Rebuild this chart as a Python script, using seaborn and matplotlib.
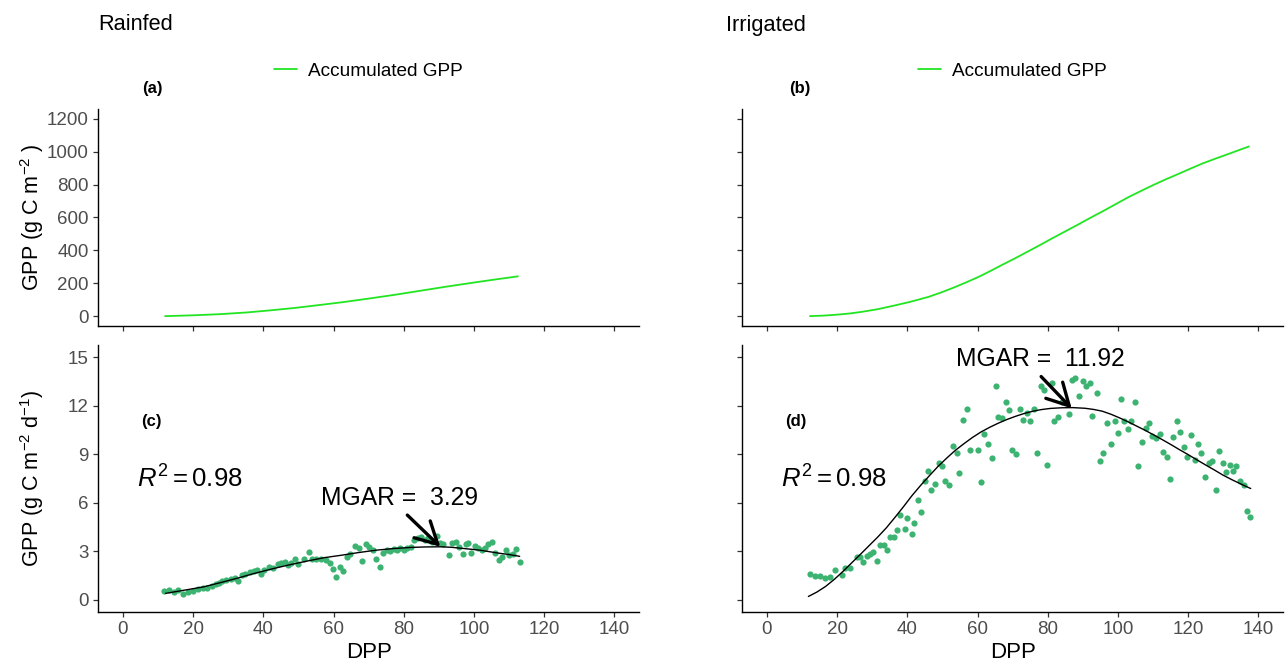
import matplotlib
matplotlib.use("Agg")
import matplotlib.pyplot as plt
import seaborn as sns
import pandas as pd

# ---------------- data ----------------
# accumulated GPP (g C m-2)
acc_rain_dpp = [12, 20, 27.6, 35, 41.9, 49, 56.1, 63, 70.4, 77.5, 84.6, 91.7, 98.9, 105.7, 112.5]
acc_rain_gpp = [0, 5, 12, 22, 35, 50, 68, 86, 108, 130, 154, 178, 201, 222, 242]
acc_irr_dpp = [12.25, 16, 20, 23.5, 27, 31.5, 36, 41, 46, 49.5, 53, 56.6, 60.2, 63.6, 67, 70.7,
               74.4, 78, 81.5, 85.1, 88.7, 92.3, 96, 99.5, 102.9, 106.5, 110, 113.6, 117.2, 120.6,
               124, 127.5, 131, 134.2, 137.3]
acc_irr_gpp = [0, 3, 9, 16, 26, 42, 63, 88, 117, 143, 172, 204, 238, 274, 312, 352,
               394, 435, 476, 517, 558, 600, 642, 683, 723, 761, 797, 832, 865, 897,
               928, 956, 983, 1008, 1032]

# daily GPP (g C m-2 d-1), rainfed
rain_dpp = [11.6, 13.1, 14.6, 15.6, 17.0, 18.5, 20.0, 21.5, 22.9, 23.9, 25.4, 26.4, 27.4, 28.3, 29.3,
            30.8, 31.8, 32.8, 33.8, 34.7, 36.2, 37.2, 38.2, 39.2, 40.2, 41.6, 42.6, 44.1, 45.1, 46.1,
            47.0, 48.0, 49.0, 50.0, 51.5, 53.0, 53.9, 54.9, 56.4, 57.9, 58.9, 59.8, 60.8, 61.8, 62.8,
            63.8, 64.8, 66.2, 67.2, 68.2, 69.2, 70.2, 71.2, 72.1, 73.1, 74.1, 75.1, 76.1, 77.1, 78.1,
            79.0, 80.0, 81.0, 82.0, 83.0, 84.0, 84.9, 85.9, 86.9, 87.9, 89.4, 90.4, 91.3, 92.8, 93.8,
            94.8, 95.8, 96.8, 97.7, 98.2, 99.2, 100.2, 101.2, 102.2, 103.1, 104.1, 105.1, 106.1, 107.1,
            108.1, 109.1, 110.0, 111.0, 112.0, 113.0]
rain_gpp = [0.55, 0.59, 0.51, 0.59, 0.38, 0.51, 0.55, 0.65, 0.72, 0.76, 0.86, 0.97, 1.07, 1.18, 1.22,
            1.31, 1.35, 1.14, 1.56, 1.60, 1.71, 1.81, 1.85, 1.60, 1.85, 2.02, 1.96, 2.19, 2.27, 2.34,
            2.17, 2.27, 2.55, 2.19, 2.55, 2.93, 2.55, 2.55, 2.55, 2.44, 2.27, 1.92, 1.43, 2.02, 1.81,
            2.65, 2.86, 3.35, 3.18, 2.40, 3.45, 3.28, 3.07, 2.55, 2.02, 2.91, 3.07, 3.03, 3.12, 3.07,
            3.18, 3.07, 3.18, 3.24, 3.71, 3.81, 3.87, 3.71, 3.81, 3.60, 3.92, 3.49, 3.45, 2.76, 3.49,
            3.60, 3.28, 2.86, 3.45, 3.54, 2.91, 3.33, 3.18, 3.07, 3.18, 3.45, 3.60, 2.91, 2.48,
            2.65, 3.07, 2.76, 2.86, 3.12, 2.34]

# daily GPP, irrigated
irr_dpp = [12.3, 13.7, 15.1, 16.5, 17.9, 19.3, 21.3, 22.2, 23.6, 25.6,
           26.5, 27.3, 28.4, 29.4, 30.3, 31.3, 32.3, 33.2, 34.2, 35.1,
           36.1, 37.0, 38.0, 39.3, 39.9, 41.2, 41.8, 43.1, 44.0, 45.0,
           46.0, 46.8, 47.8, 49.0, 49.8, 50.8, 51.9, 53.0, 54.1, 54.8,
           55.9, 57.1, 57.8, 60.2, 61.0, 61.9, 62.9, 64.0, 65.2, 65.8,
           66.9, 68.0, 69.0, 69.9, 70.8, 72.1, 73.0, 74.0, 74.9, 76.1,
           76.9, 78.0, 79.0, 79.9, 81.1, 81.8, 83.0, 84.0, 85.9, 86.8,
           87.8, 89.0, 90.1, 91.0, 92.0, 92.7, 93.9, 94.9, 95.6, 96.8,
           98.0, 99.0, 99.9, 100.9, 101.7, 102.9, 103.8, 104.8, 105.8, 106.9,
           107.9, 108.8, 109.8, 110.7, 112.0, 112.9, 113.9, 114.8, 115.7, 116.9,
           117.8, 118.8, 119.7, 120.9, 121.8, 122.8, 123.7, 124.9, 125.9, 126.7,
           127.9, 128.8, 129.8, 130.7, 131.8, 132.7, 133.7, 134.7, 135.9, 136.8,
           137.7]
irr_gpp = [1.60, 1.49, 1.46, 1.34, 1.42, 1.84, 1.54, 1.99, 1.99, 2.63,
           2.63, 2.33, 2.73, 2.83, 2.93, 2.43, 3.42, 3.42, 3.07, 3.91,
           3.91, 4.31, 5.25, 4.41, 5.05, 4.07, 4.75, 6.19, 5.40, 7.37,
           7.96, 6.78, 7.17, 8.46, 8.26, 7.37, 7.07, 9.50, 9.05, 7.87,
           11.13, 11.77, 9.25, 9.25, 7.27, 10.24, 9.64, 8.75, 13.20, 11.32,
           11.22, 12.21, 11.72, 9.25, 9.00, 11.77, 11.13, 11.57, 11.03, 11.82,
           9.05, 13.20, 13.00, 8.36, 13.40, 11.03, 11.32, 12.21, 11.48, 13.60,
           13.70, 12.61, 13.50, 13.20, 13.40, 11.38, 12.76, 8.61, 9.05, 10.93,
           9.64, 11.03, 10.34, 12.41, 11.03, 10.53, 11.03, 12.21, 8.26, 9.74,
           10.63, 10.93, 10.14, 9.99, 10.24, 9.15, 8.80, 7.47, 10.09, 11.03,
           10.38, 9.45, 8.80, 10.19, 8.66, 9.64, 9.10, 7.57, 8.46, 8.56,
           6.78, 9.20, 8.46, 7.91, 8.36, 7.96, 8.26, 7.37, 7.07, 5.49,
           5.15]

# fitted curves
rain_fit_dpp = [12.1, 17, 22.9, 27.5, 32.8, 37.5, 42.6, 47.5, 52.5, 57.4, 62.3, 67, 72.1,
                77, 82, 86, 90.4, 93.5, 96.8, 101.7, 106.6, 110, 113]
rain_fit_gpp = [0.40, 0.58, 0.80, 1.05, 1.35, 1.64, 1.92, 2.17, 2.40, 2.61, 2.76, 2.92, 3.07,
                3.17, 3.24, 3.27, 3.28, 3.25, 3.18, 3.07, 2.90, 2.80, 2.69]
irr_fit_dpp = [11.8, 14.2, 16.7, 19.2, 21.7, 24.1, 26.6, 29.0, 31.5, 34.0, 36.4, 38.9, 41.3,
               43.8, 46.3, 48.7, 51.2, 53.6, 56.1, 58.5, 61.0, 63.5, 65.9, 68.4, 70.9, 73.3,
               75.8, 78.2, 80.7, 83.9, 87.1, 90.6, 93.0, 95.5, 98.0, 100.4, 102.9, 105.3,
               107.8, 110.2, 112.7, 115.2, 117.6, 120.1, 122.5, 125.0, 127.5, 129.9, 132.5,
               135.0, 137.8]
irr_fit_gpp = [0.21, 0.48, 0.83, 1.27, 1.77, 2.28, 2.81, 3.33, 3.87, 4.45, 5.08, 5.76, 6.44,
               7.08, 7.68, 8.24, 8.76, 9.23, 9.65, 10.03, 10.38, 10.67, 10.92, 11.15, 11.35,
               11.52, 11.66, 11.76, 11.83, 11.87, 11.88, 11.84, 11.77, 11.66, 11.47, 11.25,
               11.00, 10.74, 10.47, 10.19, 9.89, 9.58, 9.27, 8.96, 8.65, 8.33, 8.02, 7.71,
               7.42, 7.16, 6.88]

panel_titles = ["Rainfed", "Irrigated"]
panel_tags = ["(a)", "(b)", "(c)", "(d)"]
r2_values = [0.98, 0.98]
mgar_values = ["3.29", "11.92"]
mgar_text_xy = [(78.9, 6.3), (77.8, 14.9)]
arrow_from = [(81.0, 5.24), (78.1, 13.8)]
arrow_to = [(90.4, 3.28), (86.8, 11.83)]
top_ticks = [0, 200, 400, 600, 800, 1000, 1200]
bottom_ticks = [0, 3, 6, 9, 12, 15]
x_ticks = [0, 20, 40, 60, 80, 100, 120, 140]

# ---------------- style ----------------
sns.set_theme(style="ticks")
plt.rcParams['font.family'] = ['Liberation Sans', 'DejaVu Sans']
plt.rcParams['mathtext.fontset'] = 'custom'
plt.rcParams['mathtext.rm'] = 'Liberation Sans'
plt.rcParams['mathtext.it'] = 'Liberation Sans:italic'
plt.rcParams['mathtext.bf'] = 'Liberation Sans:bold'
plt.rcParams['text.color'] = 'black'
plt.rcParams['axes.labelcolor'] = 'black'

ACC_COL = '#22E522'
PT_COL = '#3CB371'
TICK_COL = '#4D4D4D'

fig = plt.figure(figsize=(12.85, 6.61), dpi=100)
W = 540.6 / 1285
lefts = [98.4 / 1285, 742.4 / 1285]
top_b, top_h = 1 - 326 / 661, 217 / 661
bot_b, bot_h = 1 - 612 / 661, 267 / 661

axes_top = [fig.add_axes([l, top_b, W, top_h]) for l in lefts]
axes_bot = [fig.add_axes([l, bot_b, W, bot_h]) for l in lefts]

acc_sets = [(acc_rain_dpp, acc_rain_gpp), (acc_irr_dpp, acc_irr_gpp)]
day_sets = [(rain_dpp, rain_gpp), (irr_dpp, irr_gpp)]
fit_sets = [(rain_fit_dpp, rain_fit_gpp), (irr_fit_dpp, irr_fit_gpp)]


def style_axis(ax):
    sns.despine(ax=ax)
    for s in ['left', 'bottom']:
        ax.spines[s].set_linewidth(1.0)
        ax.spines[s].set_color('black')
    ax.tick_params(axis='both', direction='out', length=3.8, width=0.9, color='#333333',
                   labelsize=13.5, labelcolor=TICK_COL, pad=3)
    ax.set_xlim(-7, 147)
    ax.set_xticks(x_ticks)
    ax.grid(False)
    ax.set_facecolor('white')


for i in range(2):
    ax = axes_top[i]
    d = pd.DataFrame({'DPP': acc_sets[i][0], 'GPP': acc_sets[i][1]})
    sns.lineplot(data=d, x='DPP', y='GPP', ax=ax, color=ACC_COL, lw=1.3, label='Accumulated GPP')
    style_axis(ax)
    ax.set_ylim(-60, 1260)
    ax.set_yticks(top_ticks)
    ax.tick_params(axis='x', labelbottom=False)
    ax.set_xlabel('')
    leg = ax.legend(loc='center', bbox_to_anchor=(0.5, 1.175), frameon=False, fontsize=13.7,
                    handlelength=1.2, handletextpad=0.6, borderaxespad=0)
    for t in leg.get_texts():
        t.set_color('black')
    if i == 0:
        ax.set_ylabel(r'GPP (g C m$^{-2}$ )', fontsize=15.5, va='center', color='black')
        ax.yaxis.set_label_coords(-0.1228, 0.5)
    else:
        ax.set_ylabel('')
        ax.tick_params(axis='y', labelleft=False)

    axb = axes_bot[i]
    dd = pd.DataFrame({'DPP': day_sets[i][0], 'GPP': day_sets[i][1]})
    sns.scatterplot(data=dd, x='DPP', y='GPP', ax=axb, color=PT_COL, s=20, linewidth=0)
    df = pd.DataFrame({'DPP': fit_sets[i][0], 'GPP': fit_sets[i][1]})
    sns.lineplot(data=df, x='DPP', y='GPP', ax=axb, color='black', lw=1.0)
    style_axis(axb)
    axb.set_ylim(-0.75, 15.75)
    axb.set_yticks(bottom_ticks)
    axb.set_xlabel('DPP', fontsize=16, va='center', color='black')
    axb.xaxis.set_label_coords(0.5, -0.15)
    if i == 0:
        axb.set_ylabel(r'GPP (g C m$^{-2}$ d$^{-1}$)', fontsize=15.5, va='center', color='black')
        axb.yaxis.set_label_coords(-0.1228, 0.5)
    else:
        axb.set_ylabel('')
        axb.tick_params(axis='y', labelleft=False)

    axb.text(8.1, 11.0, panel_tags[i + 2], fontsize=12, fontweight='bold', ha='center',
             va='center', color='black')
    axb.text(4.0, 7.5, r'$R^2 = %.2f$' % r2_values[i], fontsize=18.5, ha='left', va='center',
             color='black')
    axb.text(mgar_text_xy[i][0], mgar_text_xy[i][1], 'MGAR =  ' + mgar_values[i], fontsize=17.7,
             ha='center', va='center', color='black')
    axb.annotate('', xy=arrow_to[i], xytext=arrow_from[i],
                 arrowprops=dict(arrowstyle='->,head_length=1.3,head_width=0.7', lw=2.4,
                                 color='black', shrinkA=0, shrinkB=0))

    fig.text([152.5, 800][i] / 1285, 1 - 88 / 661, panel_tags[i], fontsize=12,
             fontweight='bold', ha='center', va='center', color='black')
    fig.text([98, 726][i] / 1285, 1 - 25 / 661, panel_titles[i], fontsize=15.7,
             ha='left', va='center', color='black')

fig.savefig('out.png', dpi=100, facecolor='white')
